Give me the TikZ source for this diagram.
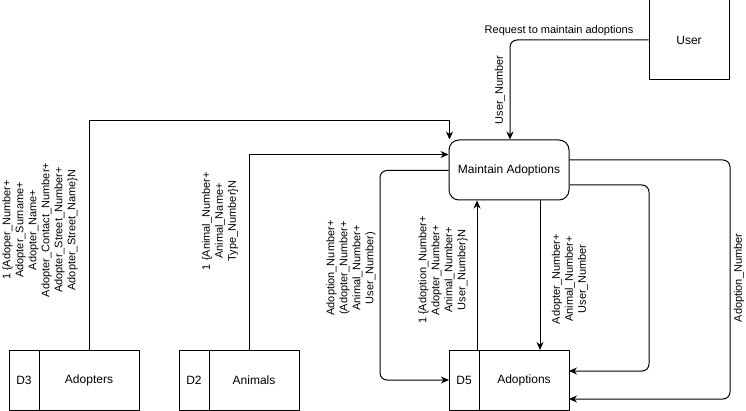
\documentclass[tikz,border=0pt]{standalone}
\usepackage{fontspec}
\setmainfont{Liberation Sans}
\usetikzlibrary{positioning,arrows.meta}

\tikzset{
  ext/.style={draw, line width=1pt, minimum width=80pt, minimum height=80pt, font=\fontsize{12}{14}\selectfont},
  proc/.style={draw, line width=1pt, rounded corners=10pt, minimum width=120pt, minimum height=60pt, font=\fontsize{12}{14}\selectfont},
  storeid/.style={draw, line width=1pt, minimum width=30pt, minimum height=60pt, inner sep=0pt, outer sep=0pt, font=\fontsize{12}{14}\selectfont},
  storename/.style={draw, line width=1pt, minimum height=60pt, inner sep=0pt, outer sep=0pt, font=\fontsize{12}{14}\selectfont},
  flow/.style={line width=1pt, -{Stealth[length=8pt,width=7pt]}},
  roundflow/.style={flow, rounded corners=7pt},
  lbl/.style={rotate=90, align=center, inner sep=0pt, font=\fontsize{11}{13}\selectfont},
  flat/.style={inner sep=0pt, font=\fontsize{11}{13}\selectfont}
}

\begin{document}
\begin{tikzpicture}[x=1pt,y=-1pt]
\useasboundingbox (0,0) rectangle (746,411);
\node[ext] (user) at (689,40) {User}; \node[proc] (maint) at (509,170) {Maintain Adoptions};
\node[storeid] (d3) at (24,380) {D3}; \node[storename, minimum width=100pt, right=0pt of d3] (adopters) {Adopters};
\node[storeid] (d2) at (194,380) {D2}; \node[storename, minimum width=90pt, right=0pt of d2] (animals) {Animals};
\node[storeid] (d5) at (464,380) {D5}; \node[storename, minimum width=90pt, right=0pt of d5] (adoptions) {Adoptions};

% flows in and out of the process
\draw[roundflow] (user.west) -| ([xshift=1pt]maint.north);
\draw[flow] (adopters.north) |- ([xshift=1pt,yshift=19pt]maint.north west) -- ([xshift=1pt]maint.north west);
\draw[flow] ([xshift=-5pt]animals.north) |- ([yshift=-15pt]maint.north west);
\draw[roundflow] ([yshift=-31pt]maint.north west) -| ([xshift=-69pt]d5.west) -- (d5.west);
\path ([xshift=-2pt]d5.north east) coordinate (upfoot) ([xshift=31pt]maint.south) coordinate (downtop);
\draw[flow] (upfoot) -- (upfoot |- maint.south);
\draw[flow] (downtop) -- (downtop |- adoptions.north);
\draw[roundflow] ([yshift=-15pt]maint.east) -| ([xshift=80pt,yshift=9pt]adoptions.east) -- ([yshift=9pt]adoptions.east);
\draw[roundflow] ([yshift=10pt]maint.east) -| ([xshift=161pt,yshift=-19pt]adoptions.east) -- ([yshift=-19pt]adoptions.east);

% data labels
\node[flat] (req) at (559,31) {Request to maintain adoptions};
\node[lbl] (usernum) at (500,90) {User\_Number};
\node[lbl] (adopterdata) at (40,230) {1 \{Adoper\_Number+\\Adopter\_Surname+\\Adopter\_Name+\\Adopter\_Contact\_Number+\\Adopter\_Street\_Number+\\Adopter\_Street\_Name\}N};
\node[lbl] (animaldata) at (220,221) {1 \{Animal\_Number+\\Animal\_Name+\\Type\_Number\}N};
\node[lbl] (newadoption) at (351,268) {Adoption\_Number+\\(Adopter\_Number+\\Animal\_Number+\\User\_Number)};
\node[lbl] (adoptionlist) at (443,270) {1 \{Adoption\_Number+\\Adopter\_Number+\\Animal\_Number+\\User\_Number\}N};
\node[lbl] (editdata) at (570,279) {Adopter\_Number+\\Animal\_Number+\\User\_Number};
\node[lbl] (delnum) at (739,278) {Adoption\_Number};
\end{tikzpicture}
\end{document}
